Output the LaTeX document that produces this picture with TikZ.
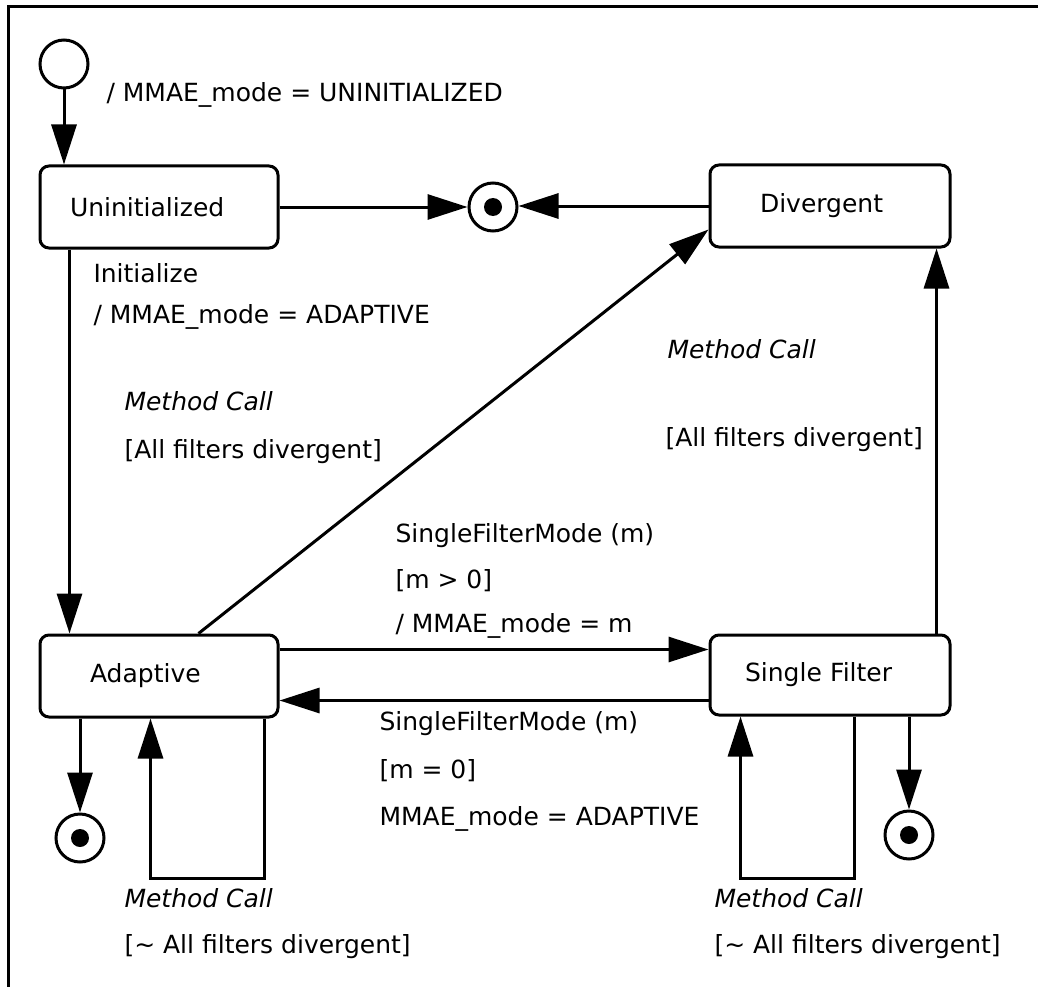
\documentclass[tikz,border=0pt]{standalone}
\usepackage{fontspec}
\setmainfont{DejaVu Sans}
\usetikzlibrary{arrows.meta}
\begin{document}
\begin{tikzpicture}[x=1pt,y=-1pt,line width=3pt,
  every node/.style={font=\fontsize{25}{30}\selectfont},
  state/.style={draw,rounded corners=9pt,minimum height=82pt,align=left,inner ysep=0pt},
  arr/.style={-{Triangle[length=40pt,width=25pt]}},
  lbl/.style={anchor=base west,inner sep=0pt},
  initial/.style={circle,draw,minimum size=48pt,inner sep=0pt},
  final/.style={circle,draw,minimum size=48pt,inner sep=0pt,
    path picture={\fill (path picture bounding box.center) circle (9pt);}}]
\useasboundingbox (0,0) rectangle (1038,987);

% frame
\draw (8,987) -- (8,7) -- (1038,7);

% states
\node[state,text width=178pt,inner xsep=30pt] (uninit) at (159,207) {Uninitialized};
\node[state,text width=140pt,inner xsep=50pt] (div) at (830,206) {Divergent};
\node[state,text width=138pt,inner xsep=50pt] (adapt) at (159,676) {Adaptive};
\node[state,text width=170pt,inner xsep=35pt,minimum height=80pt] (single) at (830,675) {Single Filter};

% pseudo-states
\node[initial] (init) at (64,64) {};
\node[final] (end1) at (493,207) {};
\node[final] (end2) at (80,838) {};
\node[final] (end3) at (909,835) {};

% transitions
\draw[arr] (init.south) -- (init.south |- uninit.north);
\draw[arr] (uninit.east) -- (uninit.east -| end1.west);
\draw[arr] (div.west) -- (div.west -| end1.east);
\draw[arr] ([xshift=31pt]uninit.south west) -- ([xshift=31pt]adapt.north west);
\draw[arr] ([xshift=160pt]adapt.north west) -- ([yshift=19pt]div.south west);
\draw[arr] ([yshift=-16pt]adapt.north east) -- ([yshift=-16pt]adapt.north east -| single.west);
\draw[arr] ([yshift=16pt]single.south west) -- ([yshift=16pt]single.south west -| adapt.east);
\draw[arr] ([xshift=-15pt]single.north east) -- ([xshift=-15pt]single.north east |- div.south);
\draw[arr] (end2 |- adapt.south) -- (end2.north);
\draw[arr] (end3 |- single.south) -- (end3.north);
\draw[arr] ([xshift=-15pt]adapt.south east) -- ++(0,160) -| ([xshift=112pt]adapt.south west);
\draw[arr] ([xshift=-97pt]single.south east) -- ++(0,162) -| ([xshift=32pt]single.south west);

% transition labels
\node[lbl] (t0) at (105,102) {/ MMAE\_mode = UNINITIALIZED};
\node[lbl] (t1) at (92,282) {Initialize};
\node[lbl] (t2) at (92,323) {/ MMAE\_mode = ADAPTIVE};
\node[lbl] (t3) at (123,410) {\itshape Method Call};
\node[lbl] (t4) at (123,458) {[All filters divergent]};
\node[lbl] (t5) at (666,358) {\itshape Method Call};
\node[lbl] (t6) at (664,446) {[All filters divergent]};
\node[lbl] (t7) at (394,542) {SingleFilterMode (m)};
\node[lbl] (t8) at (394,588) {[m > 0]};
\node[lbl] (t9) at (394,632) {/ MMAE\_mode = m};
\node[lbl] (t10) at (378,730) {SingleFilterMode (m)};
\node[lbl] (t11) at (378,778) {[m = 0]};
\node[lbl] (t12) at (378,825) {MMAE\_mode = ADAPTIVE};
\node[lbl] (t13) at (123,907) {\itshape Method Call};
\node[lbl] (t14) at (123,953) {[\textasciitilde{} All filters divergent]};
\node[lbl] (t15) at (713,907) {\itshape Method Call};
\node[lbl] (t16) at (713,953) {[\textasciitilde{} All filters divergent]};
\end{tikzpicture}
\end{document}
